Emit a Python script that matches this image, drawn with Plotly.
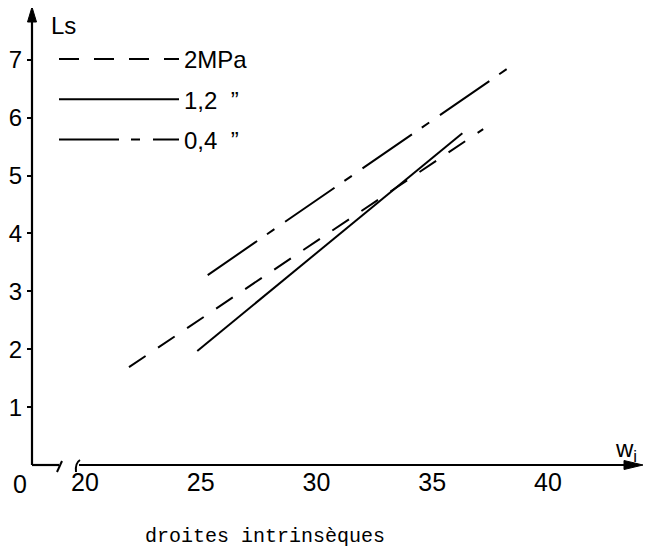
import plotly.graph_objects as go

# ---- data ----
wi_2mpa = [21.9, 37.2]
ls_2mpa = [1.69, 5.80]
wi_12 = [24.85, 36.3]
ls_12 = [1.97, 5.73]
wi_04 = [25.3, 38.66]
ls_04 = [3.28, 6.96]

x_ticks = [20, 25, 30, 35, 40]
y_ticks = [1, 2, 3, 4, 5, 6, 7]
names = ["2MPa", "1,2  \u201d", "0,4  \u201d"]

FONT = "Liberation Sans"

fig = go.Figure()
fig.add_trace(go.Scatter(x=wi_2mpa, y=ls_2mpa, mode="lines", name=names[0],
                         legendgroup="a",
                         line=dict(color="black", width=2, dash="20px,15px")))
fig.add_trace(go.Scatter(x=wi_12, y=ls_12, mode="lines", name=names[1],
                         legendgroup="b",
                         line=dict(color="black", width=2)))
fig.add_trace(go.Scatter(x=wi_04, y=ls_04, mode="lines", name=names[2],
                         legendgroup="c",
                         line=dict(color="black", width=2, dash="60px,12px,9px,13px")))

# the page body has an 8px margin: figure is 652x540, placed at (8, 8)
# plot area in page pixels: x 32..642, y 8..465
W, H = 652, 540
L, R, T, B = 24, 18, 0, 83

def px(xp):
    return (xp - 32) / 610

def py(yp):
    return (465 - yp) / 457

AX = dict(color="black", width=2.2)
shapes = [
    # y axis + arrow head
    dict(type="line", xref="paper", yref="paper", x0=0, y0=0, x1=0, y1=py(18), line=AX),
    dict(type="path", xref="paper", yref="paper",
         path=f"M{px(32)},{py(7)} L{px(27.5)},{py(22)} L{px(36.5)},{py(22)} Z",
         fillcolor="black", line=dict(color="black", width=1)),
    # x axis: short piece, break marks, main piece + arrow head
    dict(type="line", xref="paper", yref="paper", x0=0, y0=0, x1=px(59), y1=0, line=AX),
    dict(type="line", xref="paper", yref="paper", x0=px(57), y0=py(472), x1=px(62), y1=py(461),
         line=dict(color="black", width=2)),
    dict(type="path", xref="paper", yref="paper",
         path=f"M{px(76)},{py(472)} Q{px(75)},{py(463)} {px(80)},{py(460)}",
         line=dict(color="black", width=2)),
    dict(type="line", xref="paper", yref="paper", x0=px(79), y0=0, x1=px(628), y1=0, line=AX),
    dict(type="path", xref="paper", yref="paper",
         path=f"M{px(643)},{py(465)} L{px(624)},{py(460.5)} L{px(624)},{py(469.5)} Z",
         fillcolor="black", line=dict(color="black", width=1)),
]

annotations = [
    dict(x=px(20), y=py(484), xref="paper", yref="paper", text="0", showarrow=False,
         font=dict(family=FONT, size=25, color="black"), xanchor="center", yanchor="middle"),
    dict(x=px(63), y=py(26), xref="paper", yref="paper", text="Ls", showarrow=False,
         font=dict(family=FONT, size=24, color="black"), xanchor="center", yanchor="middle"),
    dict(x=px(626), y=py(450), xref="paper", yref="paper", text="w<sub>i</sub>", showarrow=False,
         font=dict(family=FONT, size=24, color="black"), xanchor="center", yanchor="middle"),
    dict(x=px(265), y=py(536), xref="paper", yref="paper", text="droites intrinsèques",
         showarrow=False, font=dict(family="Liberation Mono", size=20, color="black"),
         xanchor="center", yanchor="middle"),
]

fig.update_layout(
    width=W, height=H,
    margin=dict(l=L, r=R, t=T, b=B, autoexpand=False),
    paper_bgcolor="white", plot_bgcolor="white",
    showlegend=True,
    legend=dict(x=px(54), y=py(37), xanchor="left", yanchor="top",
                bgcolor="rgba(0,0,0,0)", itemwidth=120, tracegroupgap=6,
                traceorder="grouped",
                font=dict(family=FONT, size=24, color="black")),
    xaxis=dict(range=[17.7106, 44.06], tickvals=x_ticks, ticktext=[str(v) for v in x_ticks],
               showgrid=False, zeroline=False, showline=False, ticks="", automargin=False,
               tickfont=dict(family=FONT, size=25, color="black")),
    yaxis=dict(range=[0, 457 / 57.9], tickvals=y_ticks, ticktext=[str(v) for v in y_ticks],
               showgrid=False, zeroline=False, showline=False, ticks="outside",
               ticklen=4, tickwidth=2, tickcolor="black", automargin=False,
               tickfont=dict(family=FONT, size=24, color="black")),
    shapes=shapes,
    annotations=annotations,
)

fig.write_html("out.html")
